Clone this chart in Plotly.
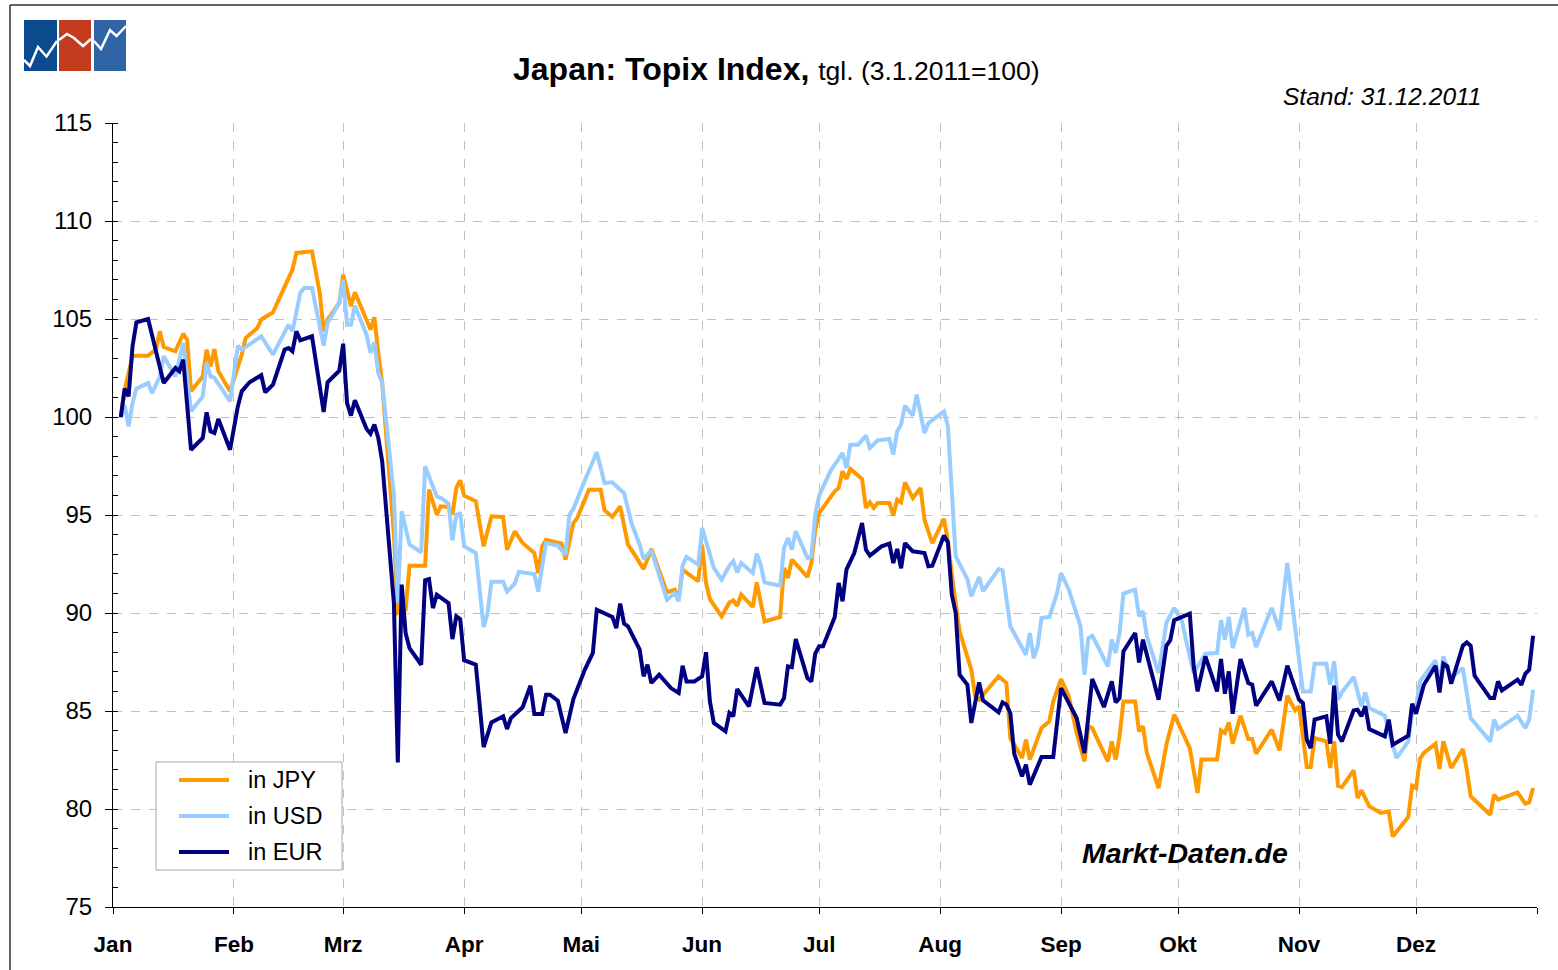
import plotly.graph_objects as go
import pandas as pd

# ---------------- data (day offset from 2011-01-01, index 3.1.2011 = 100) ----------------
month_ticks = ["2011-01-01", "2011-02-01", "2011-03-01", "2011-04-01", "2011-05-01", "2011-06-01",
               "2011-07-01", "2011-08-01", "2011-09-01", "2011-10-01", "2011-11-01", "2011-12-01",
               "2012-01-01"]
month_labels = ["Jan", "Feb", "Mrz", "Apr", "Mai", "Jun", "Jul", "Aug", "Sep", "Okt", "Nov", "Dez", ""]

jpy_days = [2, 3, 5, 6, 9, 11, 12, 13, 16, 18, 19, 20, 23, 24, 25, 26, 27, 30, 33, 34,
            37, 38, 39, 41, 46, 47, 51, 53, 54, 55, 58, 59, 61, 62, 66, 67, 68, 69, 72, 73,
            75, 76, 80, 81, 83, 84, 86, 87, 88, 89, 90, 93, 95, 97, 100, 101, 103, 105, 108, 109,
            110, 111, 115, 116, 118, 119, 122, 125, 126, 128, 130, 132, 134, 136, 138, 142, 144, 145, 146, 150,
            151, 152, 153, 156, 158, 159, 160, 161, 164, 165, 167, 171, 172, 173, 174, 178, 179, 180, 181, 185,
            186, 187, 188, 189, 192, 193, 194, 195, 196, 199, 200, 201, 202, 203, 205, 207, 208, 210, 213, 214,
            215, 217, 220, 221, 222, 227, 229, 230, 233, 234, 235, 237, 238, 240, 241, 243, 245, 247, 249, 250,
            251, 255, 256, 257, 258, 259, 262, 263, 264, 265, 268, 270, 272, 276, 278, 279, 283, 284, 285, 286,
            287, 289, 291, 292, 293, 297, 299, 301, 303, 304, 306, 307, 308, 311, 312, 313, 314, 315, 318, 319,
            320, 322, 325, 327, 328, 332, 333, 334, 335, 336, 339, 340, 341, 343, 346, 347, 348, 353, 354, 355,
            360, 362, 363, 364]
jpy_vals = [100.0, 101.4, 103.1, 103.13, 103.13, 103.44, 104.37, 103.57, 103.35, 104.25, 103.95, 101.31, 102.07, 103.44, 102.58, 103.47, 102.33, 101.31, 103.18, 104.03,
            104.54, 104.97, 105.1, 105.34, 107.52, 108.37, 108.45, 106.33, 104.37, 104.97, 105.82, 107.26, 105.65, 106.36, 104.46, 105.09, 103.27, 101.73, 94.0, 90.0,
            90.17, 92.41, 92.41, 96.29, 95.02, 95.44, 95.41, 95.02, 96.38, 96.77, 95.99, 95.7, 93.4, 94.93, 94.9, 93.23, 94.17, 93.57, 93.06, 92.04,
            93.4, 93.74, 93.54, 92.72, 94.59, 94.85, 96.29, 96.29, 95.24, 94.9, 95.44, 93.49, 92.89, 92.24, 93.27, 91.05, 91.19, 90.77, 92.21, 91.62,
            93.49, 91.53, 90.71, 89.83, 90.54, 90.65, 90.37, 90.94, 90.31, 91.56, 89.57, 89.8, 92.3, 91.79, 92.72, 91.84, 92.55, 94.25, 95.1, 96.21,
            96.38, 97.23, 96.84, 97.35, 96.84, 95.36, 95.65, 95.36, 95.61, 95.61, 94.97, 95.78, 95.65, 96.67, 95.87, 96.38, 94.76, 93.57, 94.8, 93.66,
            91.96, 89.06, 87.11, 85.75, 85.58, 86.77, 86.43, 83.62, 82.6, 83.54, 82.52, 83.62, 84.13, 84.47, 85.49, 86.63, 85.75, 83.88, 82.43, 84.22,
            84.13, 82.43, 83.45, 82.52, 83.71, 85.49, 85.49, 83.96, 84.22, 82.86, 81.07, 83.28, 84.81, 83.11, 80.82, 82.52, 82.52, 84.01, 83.88, 84.42,
            83.33, 84.76, 83.57, 83.57, 82.82, 84.05, 82.99, 85.78, 85.03, 85.24, 82.14, 82.14, 83.62, 83.45, 82.09, 83.45, 81.19, 81.12, 81.97, 80.56,
            80.95, 80.14, 79.8, 79.88, 78.6, 79.59, 81.19, 81.07, 82.55, 82.86, 83.33, 82.04, 83.45, 82.09, 83.06, 82.01, 80.65, 79.71, 80.73, 80.48,
            80.85, 80.27, 80.34, 81.07]

usd_days = [2, 3, 4, 5, 6, 9, 10, 12, 13, 16, 18, 20, 23, 24, 25, 26, 30, 32, 33, 38,
            41, 45, 46, 48, 49, 51, 53, 54, 55, 58, 59, 60, 61, 62, 65, 66, 67, 68, 69, 72,
            73, 74, 76, 79, 80, 83, 84, 86, 87, 88, 89, 90, 93, 95, 96, 97, 100, 101, 103, 104,
            108, 109, 110, 111, 114, 116, 117, 118, 121, 124, 126, 128, 130, 131, 133, 135, 136, 138, 142, 144,
            145, 146, 147, 150, 151, 153, 154, 156, 158, 159, 160, 161, 164, 165, 166, 167, 171, 172, 173, 174,
            175, 178, 179, 180, 181, 184, 187, 188, 189, 191, 193, 194, 196, 199, 200, 201, 202, 203, 205, 206,
            208, 209, 213, 214, 216, 219, 220, 222, 223, 227, 228, 230, 234, 235, 236, 237, 238, 240, 242, 243,
            245, 248, 249, 250, 251, 252, 255, 256, 257, 258, 259, 262, 263, 264, 265, 268, 270, 272, 274, 275,
            277, 280, 283, 284, 285, 286, 287, 290, 291, 292, 293, 297, 299, 301, 305, 307, 308, 311, 312, 313,
            314, 315, 318, 319, 320, 321, 322, 325, 326, 327, 329, 332, 333, 334, 335, 339, 340, 341, 343, 346,
            347, 348, 353, 354, 355, 360, 362, 363, 364]
usd_vals = [100.0, 100.6, 99.52, 100.71, 101.45, 101.73, 101.22, 102.07, 103.1, 102.07, 103.78, 100.29, 101.05, 102.76, 102.07, 101.99, 100.8, 103.64, 103.44, 104.12,
            103.18, 104.71, 104.37, 106.33, 106.58, 106.58, 104.63, 103.64, 104.8, 105.82, 107.0, 104.71, 104.71, 105.68, 104.2, 103.27, 103.81, 102.24, 101.73, 96.0,
            90.5, 95.19, 93.49, 93.1, 97.48, 95.95, 95.88, 95.58, 93.71, 95.02, 95.07, 93.4, 93.06, 89.29, 89.99, 91.6, 91.6, 91.09, 91.51, 92.1,
            91.99, 91.09, 92.38, 93.57, 93.44, 92.98, 95.02, 95.31, 96.8, 98.2, 96.63, 96.67, 96.29, 96.12, 94.51, 93.49, 92.76, 93.2, 90.68, 91.02,
            90.6, 92.41, 92.86, 92.47, 94.34, 92.86, 92.3, 91.7, 92.41, 92.64, 92.07, 92.55, 92.04, 93.03, 92.47, 91.56, 91.39, 93.32, 93.83, 93.23,
            94.17, 92.81, 92.89, 95.02, 95.99, 97.28, 98.16, 97.4, 98.59, 98.59, 99.05, 98.42, 98.81, 98.88, 98.08, 99.27, 99.61, 100.58, 100.07, 101.14,
            99.18, 99.69, 100.29, 99.52, 92.89, 91.73, 90.85, 91.84, 91.11, 92.24, 92.18, 89.32, 87.87, 88.98, 87.7, 88.3, 89.74, 89.8, 91.02, 92.04,
            91.19, 89.32, 86.85, 88.72, 88.84, 88.47, 87.28, 88.64, 87.96, 88.98, 90.99, 91.19, 89.83, 90.09, 88.81, 86.94, 89.49, 90.26, 89.57, 88.64,
            86.94, 87.93, 87.96, 89.63, 88.64, 89.8, 88.21, 90.26, 88.89, 88.98, 88.27, 90.26, 89.12, 92.55, 86.0, 86.0, 87.41, 87.41, 86.34, 87.53,
            85.58, 85.95, 86.73, 86.0, 85.24, 85.95, 85.15, 84.86, 84.76, 83.96, 82.6, 83.45, 84.9, 85.24, 86.51, 87.59, 86.43, 87.79, 86.68, 87.19,
            85.92, 84.64, 83.45, 84.56, 84.08, 84.76, 84.13, 84.56, 86.09]

eur_days = [2, 3, 4, 5, 6, 9, 13, 16, 17, 18, 20, 23, 24, 25, 26, 27, 30, 32, 33, 35,
            38, 39, 41, 44, 45, 46, 47, 48, 51, 54, 55, 58, 59, 60, 61, 62, 65, 66, 67, 68,
            69, 72, 73, 74, 75, 76, 79, 80, 81, 82, 83, 86, 87, 88, 89, 90, 93, 95, 97, 100,
            101, 102, 105, 107, 108, 110, 111, 112, 114, 116, 118, 121, 123, 124, 128, 129, 130, 131, 132, 135,
            136, 137, 138, 140, 143, 145, 146, 147, 149, 151, 152, 153, 154, 157, 158, 159, 160, 163, 165, 167,
            171, 172, 173, 174, 175, 178, 179, 180, 181, 182, 185, 186, 187, 188, 190, 192, 193, 194, 197, 199,
            200, 201, 202, 203, 205, 208, 209, 210, 213, 214, 215, 216, 217, 219, 220, 222, 223, 227, 228, 229,
            230, 231, 233, 234, 235, 238, 241, 243, 247, 249, 251, 254, 256, 257, 258, 259, 262, 263, 264, 268,
            270, 271, 272, 276, 277, 278, 280, 283, 284, 285, 286, 287, 289, 291, 292, 293, 297, 299, 301, 304,
            305, 306, 307, 308, 311, 312, 313, 314, 315, 318, 319, 320, 321, 322, 326, 327, 328, 332, 333, 334,
            336, 339, 340, 341, 342, 343, 346, 347, 348, 349, 350, 353, 354, 355, 356, 360, 361, 362, 363, 364]
eur_vals = [100.0, 101.45, 101.05, 103.6, 104.83, 105.0, 101.73, 102.5, 102.33, 102.93, 98.33, 98.93, 100.24, 99.27, 99.18, 99.9, 98.33, 100.54, 101.31, 101.77,
            102.13, 101.26, 101.65, 103.44, 103.52, 103.35, 104.37, 103.91, 104.12, 100.26, 101.77, 102.36, 103.74, 100.71, 100.07, 100.85, 99.39, 99.15, 99.61, 98.93,
            97.74, 90.5, 82.38, 91.45, 88.98, 88.21, 87.36, 91.67, 91.73, 90.25, 90.93, 90.51, 88.67, 89.83, 89.69, 87.59, 87.36, 83.16, 84.42, 84.73,
            84.08, 84.64, 85.19, 86.29, 84.85, 84.85, 85.83, 85.83, 85.53, 83.88, 85.61, 87.14, 87.96, 90.17, 89.8, 89.23, 90.48, 89.46, 89.32, 88.13,
            86.77, 87.36, 86.43, 86.85, 86.17, 85.92, 87.31, 86.51, 86.51, 86.77, 88.0, 85.49, 84.39, 83.96, 84.9, 84.73, 86.12, 85.24, 87.24, 85.41,
            85.32, 85.66, 87.28, 87.24, 88.67, 86.68, 86.51, 87.93, 88.3, 88.3, 89.8, 91.53, 90.6, 92.21, 93.06, 94.59, 93.23, 92.93, 93.4, 93.54,
            92.55, 93.27, 92.28, 93.57, 93.15, 93.06, 92.38, 92.41, 93.95, 93.61, 90.94, 90.0, 86.85, 86.34, 84.39, 86.46, 85.54, 84.93, 85.44, 85.32,
            84.9, 82.82, 81.67, 82.26, 81.24, 82.65, 82.65, 86.17, 84.64, 82.86, 86.63, 85.2, 86.51, 85.44, 85.66, 88.04, 88.98, 87.48, 88.64, 85.58,
            88.33, 88.61, 89.63, 89.97, 87.28, 86.0, 87.79, 86.0, 87.65, 85.88, 87.02, 84.86, 87.65, 86.43, 86.34, 85.27, 86.51, 85.53, 87.31, 85.58,
            85.41, 83.54, 83.11, 84.56, 84.73, 83.33, 86.29, 83.79, 83.45, 85.03, 85.07, 84.73, 85.24, 84.08, 83.71, 84.56, 83.28, 83.74, 85.37, 84.86,
            86.34, 87.31, 85.95, 87.41, 87.28, 86.39, 88.33, 88.5, 88.33, 86.8, 86.51, 85.66, 85.66, 86.51, 86.05, 86.6, 86.34, 86.9, 87.11, 88.84]

series_names = ["in JPY", "in USD", "in EUR"]
series_colors = ["#FF9900", "#99CCFF", "#000080"]

# ---------------- figure ----------------
W, H = 1558, 970
PL, PR, PT, PB = 113, 1537, 123, 907   # plot area in pixels
FONT = "Arial, Liberation Sans, Helvetica, sans-serif"


def px(x):
    return (x - PL) / (PR - PL)


def py(y):
    return (PB - y) / (PB - PT)


base = pd.Timestamp("2011-01-01")


def to_dates(days):
    return [base + pd.Timedelta(days=d) for d in days]


fig = go.Figure()
for days, vals, name, col in [(jpy_days, jpy_vals, series_names[0], series_colors[0]),
                              (usd_days, usd_vals, series_names[1], series_colors[1]),
                              (eur_days, eur_vals, series_names[2], series_colors[2])]:
    assert len(days) == len(vals), name
    fig.add_trace(go.Scatter(x=to_dates(days), y=vals, mode="lines", name=name,
                             line=dict(color=col, width=4), showlegend=False))

shapes = []
annotations = []

# outer frame (top and left edges visible)
shapes.append(dict(type="line", xref="paper", yref="paper", x0=px(10), x1=px(1558), y0=py(5), y1=py(5),
                   line=dict(color="#333333", width=1.5)))
shapes.append(dict(type="line", xref="paper", yref="paper", x0=px(10), x1=px(10), y0=py(5), y1=py(970),
                   line=dict(color="#333333", width=1.5)))

# logo
logo_cols = ["#0B4B8E", "#C43C1E", "#2F64A6"]
logo_x = [(24, 57), (59, 91), (94, 126)]
for (a, b), c in zip(logo_x, logo_cols):
    shapes.append(dict(type="rect", xref="paper", yref="paper", x0=px(a), x1=px(b), y0=py(71), y1=py(20),
                       fillcolor=c, line=dict(width=0)))
zig = [[(24, 60), (30, 66), (38, 47), (46.5, 56.5), (57, 41)],
       [(59, 40), (67, 34), (74, 38), (83, 46), (91, 39)],
       [(94, 41), (101, 49), (110, 30), (116.5, 36), (126, 26)]]
for pts in zig:
    path = "M " + " L ".join(f"{px(x):.5f},{py(y):.5f}" for x, y in pts)
    shapes.append(dict(type="path", xref="paper", yref="paper", path=path,
                       line=dict(color="white", width=2.5)))

# custom legend
shapes.append(dict(type="rect", xref="paper", yref="paper", x0=px(156), x1=px(342), y0=py(870), y1=py(762),
                   fillcolor="white", line=dict(color="#A6A6A6", width=1), layer="above"))
for i, (name, col) in enumerate(zip(series_names, series_colors)):
    yy = 780 + 36 * i
    shapes.append(dict(type="line", xref="paper", yref="paper", x0=px(179), x1=px(229), y0=py(yy), y1=py(yy),
                       line=dict(color=col, width=4), layer="above"))
    annotations.append(dict(xref="paper", yref="paper", x=px(246), y=py(yy), xanchor="left", yanchor="middle",
                            text=name, showarrow=False, font=dict(family=FONT, size=23.5, color="black")))

# title and texts
annotations.append(dict(xref="paper", yref="paper", x=px(776), y=py(69), xanchor="center", yanchor="middle",
                        text="<b>Japan: Topix Index,</b> <span style='font-size:26.5px'>tgl. (3.1.2011=100)</span>",
                        showarrow=False, font=dict(family=FONT, size=32, color="black")))
annotations.append(dict(xref="paper", yref="paper", x=px(1483), y=py(96), xanchor="right", yanchor="middle",
                        text="<i>Stand: 31.12.2011</i>", showarrow=False,
                        font=dict(family=FONT, size=24.5, color="black")))
annotations.append(dict(xref="paper", yref="paper", x=px(1185), y=py(853), xanchor="center", yanchor="middle",
                        text="<b><i>Markt-Daten.de</i></b>", showarrow=False,
                        font=dict(family=FONT, size=28.5, color="black")))

fig.update_layout(
    width=W, height=H,
    margin=dict(l=PL, r=W - PR, t=PT, b=H - PB, pad=0),
    paper_bgcolor="white", plot_bgcolor="white",
    font=dict(family=FONT, color="black"),
    shapes=shapes, annotations=annotations,
    showlegend=False,
    xaxis=dict(type="date", range=["2011-01-01", "2012-01-01"],
               tickmode="array", tickvals=month_ticks, ticktext=month_labels,
               showgrid=True, gridcolor="#C0C0C0", griddash="dash", gridwidth=1,
               showline=True, linecolor="black", linewidth=1,
               ticks="outside", ticklen=6, tickcolor="black", tickwidth=1,
               tickfont=dict(family=FONT, size=22.5, color="black", weight="bold"),
               ticklabelstandoff=11, zeroline=False),
    yaxis=dict(range=[75, 115], tick0=75, dtick=5,
               showgrid=True, gridcolor="#C0C0C0", griddash="dash", gridwidth=1,
               showline=True, linecolor="black", linewidth=1,
               ticks="outside", ticklen=7, tickcolor="black", tickwidth=1,
               minor=dict(dtick=1, ticks="inside", ticklen=5, tickcolor="black", showgrid=False),
               tickfont=dict(family=FONT, size=24, color="black"),
               ticklabelstandoff=8, zeroline=False),
)

fig.write_html("out.html", config={"displayModeBar": False},
               post_script="document.body.style.margin='0px';")
